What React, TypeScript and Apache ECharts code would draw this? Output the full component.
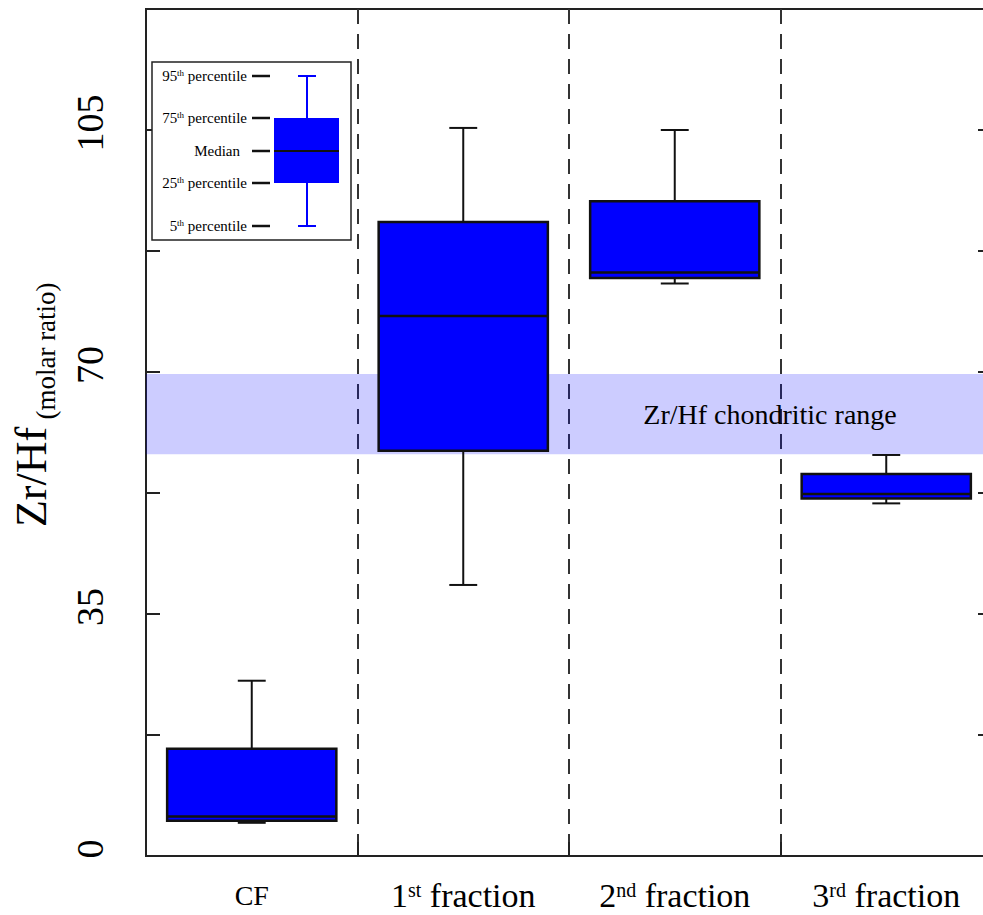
import React, { useEffect, useRef } from 'react';
import * as echarts from 'echarts';

// ---- data ----
const categories = ['CF', '1st fraction', '2nd fraction', '3rd fraction'];
const categoryNumber = ['', '1', '2', '3'];
const categorySup = ['', 'st', 'nd', 'rd'];
const p5 = [4.8, 39.2, 82.8, 51.0];
const p25 = [5.1, 58.6, 83.6, 51.7];
const median = [5.7, 78.1, 84.4, 52.35];
const p75 = [15.5, 91.7, 94.7, 55.25];
const p95 = [25.35, 105.3, 105.0, 58.0];
const chondriticRange = [58.1, 69.7];
const chondriticLabel = 'Zr/Hf chondritic range';
const yLabelled = [0, 35, 70, 105];
const yMin = 0;
const yMax = 122.5;
const yInterval = 17.5;

const SERIF = '"Liberation Serif", "Times New Roman", serif';
const INK = '#111';
const BOX = '#0000ff';

function legendGraphic() {
  const left = 152, top = 62, w = 199, h = 178;
  const cx = 307;
  const y95 = 76, y75 = 118, yMed = 151, y25 = 183, y5 = 226;
  const boxL = 274, boxR = 339;
  const Z = 20;
  const blue = { stroke: BOX, lineWidth: 2 };
  const dash = { stroke: INK, lineWidth: 2.5 };
  const rich = {
    m: { fontSize: 15, fontFamily: SERIF, fill: '#000', lineHeight: 18 },
    s: { fontSize: 9, fontFamily: SERIF, fill: '#000', padding: [0, 0, 6, 0] },
  };
  const label = (y: number, num: string, sup: string, rest: string, right = 247) => ({
    type: 'text',
    z: Z,
    x: right,
    y,
    style: {
      text: sup ? `{m|${num}}{s|${sup}}{m|${rest}}` : `{m|${rest}}`,
      rich,
      align: 'right',
      verticalAlign: 'middle',
    },
  });
  const ln = (x1: number, y1: number, x2: number, y2: number, style: any) => ({
    type: 'line',
    z: Z,
    shape: { x1, y1, x2, y2 },
    style,
  });
  const d = (y: number) => ln(252, y, 270, y, dash);
  return [
    {
      type: 'rect',
      z: Z - 1,
      shape: { x: left, y: top, width: w, height: h },
      style: { fill: '#fff', stroke: '#222', lineWidth: 1.5 },
    },
    ln(cx, y95, cx, y75, blue),
    ln(cx, y25, cx, y5, blue),
    ln(298, y95, 316, y95, blue),
    ln(298, y5, 316, y5, blue),
    {
      type: 'rect',
      z: Z,
      shape: { x: boxL, y: y75, width: boxR - boxL, height: y25 - y75 },
      style: { fill: BOX },
    },
    ln(boxL, yMed, boxR, yMed, { stroke: INK, lineWidth: 2 }),
    d(y95), d(y75), d(yMed), d(y25), d(y5),
    label(y95, '95', 'th', ' percentile'),
    label(y75, '75', 'th', ' percentile'),
    label(yMed, '', '', 'Median', 240),
    label(y25, '25', 'th', ' percentile'),
    label(y5, '5', 'th', ' percentile'),
  ];
}

export default function App() {
  const ref = useRef<HTMLDivElement>(null);

  useEffect(() => {
    if (!ref.current) return;
    const chart = echarts.init(ref.current, null, { renderer: 'svg' });

    const boxData = categories.map((_, i) => [i, p5[i], p25[i], median[i], p75[i], p95[i]]);

    const yAxisCommon = {
      type: 'value',
      min: yMin,
      max: yMax,
      interval: yInterval,
      splitLine: { show: false },
      axisLine: { show: true, lineStyle: { color: '#222', width: 2 } },
      axisTick: { show: true, inside: true, length: 14, lineStyle: { color: '#222', width: 2 } },
    };

    const option: any = {
      animation: false,
      backgroundColor: '#fff',
      grid: {
        left: 146,
        right: 8,
        top: 9,
        bottom: 59,
        show: true,
        borderColor: '#222',
        borderWidth: 2,
        backgroundColor: 'transparent',
      },
      xAxis: {
        type: 'category',
        data: categories,
        boundaryGap: true,
        axisLine: { show: true, lineStyle: { color: '#222', width: 2 } },
        axisTick: { show: true, inside: true, length: 14, alignWithLabel: false, lineStyle: { color: '#222', width: 2 } },
        splitLine: { show: true, lineStyle: { type: [15, 10], color: '#333', width: 2 } },
        axisLabel: {
          margin: 19,
          interval: 0,
          formatter: (_v: string, idx: number) =>
            idx === 0
              ? `{cf|${categories[0]}}`
              : `{n|${categoryNumber[idx]}}{s|${categorySup[idx]}}{n|${categories[idx].replace(/^\d+\w+/, '')}}`,
          rich: {
            cf: { fontSize: 28, fontFamily: SERIF, color: '#000', lineHeight: 40 },
            n: { fontSize: 34, fontFamily: SERIF, color: '#000', lineHeight: 40 },
            s: { fontSize: 20, fontFamily: SERIF, color: '#000', padding: [0, 0, 10, 0] },
          },
        },
      },
      yAxis: [
        {
          ...yAxisCommon,
          position: 'left',
          axisLabel: {
            rotate: 90,
            margin: 37,
            fontSize: 38,
            fontFamily: SERIF,
            color: '#000',
            padding: [0, 0, 0, 14],
            formatter: (v: number) => (yLabelled.some((t) => Math.abs(t - v) < 1e-6) ? String(Math.round(v)) : ''),
          },
        },
        {
          ...yAxisCommon,
          position: 'right',
          axisLabel: { show: false },
        },
      ],
      series: [
        {
          type: 'line',
          name: 'chondritic',
          data: categories.map(() => null),
          showSymbol: false,
          silent: true,
          z: 1,
          markArea: {
            silent: true,
            itemStyle: { color: 'rgba(0,0,255,0.2)' },
            label: {
              show: true,
              position: 'inside',
              offset: [201, 0],
              formatter: chondriticLabel,
              fontSize: 28,
              fontFamily: SERIF,
              color: '#000',
            },
            data: [[{ yAxis: chondriticRange[0] }, { yAxis: chondriticRange[1] }]],
          },
        },
        {
          type: 'custom',
          name: 'Zr/Hf',
          z: 3,
          encode: { x: 0, y: [1, 2, 3, 4, 5] },
          data: boxData,
          renderItem: (_params: any, api: any) => {
            const i = api.value(0);
            const band = api.size([1, 0])[0];
            const boxW = band * 0.8;
            const capW = band * 0.132;
            const [cx, yLo] = api.coord([i, api.value(1)]);
            const yQ1 = api.coord([i, api.value(2)])[1];
            const yMed = api.coord([i, api.value(3)])[1];
            const yQ3 = api.coord([i, api.value(4)])[1];
            const yHi = api.coord([i, api.value(5)])[1];
            const ls = { stroke: INK, lineWidth: 2 };
            return {
              type: 'group',
              children: [
                { type: 'line', shape: { x1: cx, y1: yHi, x2: cx, y2: yQ3 }, style: ls },
                { type: 'line', shape: { x1: cx, y1: yLo, x2: cx, y2: yQ1 }, style: ls },
                { type: 'line', shape: { x1: cx - capW / 2, y1: yHi, x2: cx + capW / 2, y2: yHi }, style: ls },
                { type: 'line', shape: { x1: cx - capW / 2, y1: yLo, x2: cx + capW / 2, y2: yLo }, style: ls },
                {
                  type: 'rect',
                  shape: { x: cx - boxW / 2, y: yQ3, width: boxW, height: yQ1 - yQ3 },
                  style: { fill: BOX, stroke: INK, lineWidth: 2.5 },
                },
                {
                  type: 'line',
                  shape: { x1: cx - boxW / 2, y1: yMed, x2: cx + boxW / 2, y2: yMed },
                  style: { stroke: INK, lineWidth: 2.5 },
                },
              ],
            };
          },
        },
      ],
      graphic: [
        {
          type: 'text',
          x: 31,
          y: 477,
          rotation: Math.PI / 2,
          style: { text: 'Zr/Hf', fontSize: 44, fontFamily: SERIF, fill: '#000', align: 'center', verticalAlign: 'middle' },
        },
        {
          type: 'text',
          x: 46,
          y: 351,
          rotation: Math.PI / 2,
          style: { text: '(molar ratio)', fontSize: 27, fontFamily: SERIF, fill: '#000', align: 'center', verticalAlign: 'middle' },
        },
        ...legendGraphic(),
      ],
    };

    chart.setOption(option);
    return () => chart.dispose();
  }, []);

  return (
    <div style={{ position: 'fixed', left: 0, top: 0, width: 983, height: 915, overflow: 'hidden', background: '#fff' }}>
      <div ref={ref} style={{ width: 1000, height: 915 }} />
    </div>
  );
}
